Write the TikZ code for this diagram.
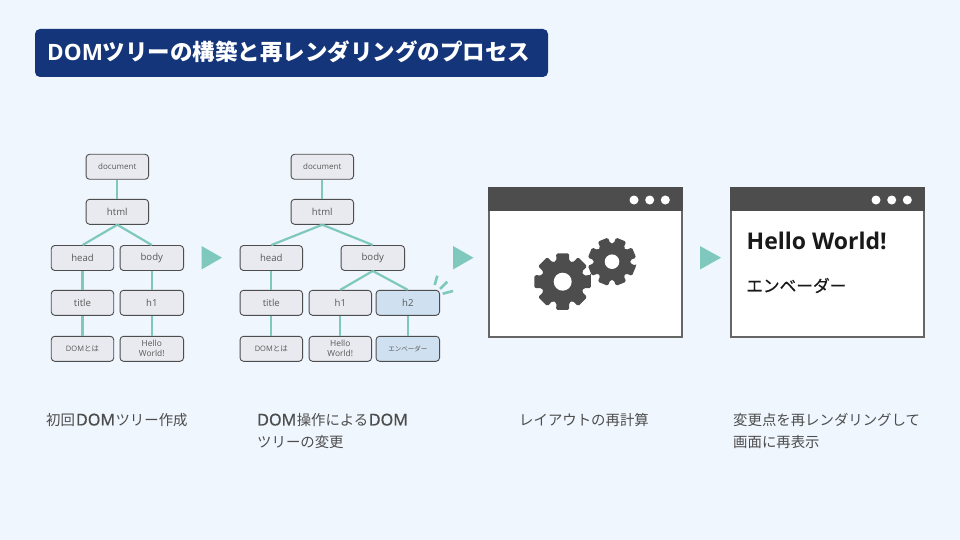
\documentclass[tikz,border=0pt]{standalone}
\usepackage{fontspec}
\setmainfont{Open Sans}
\newfontfamily\jp{Noto Sans CJK JP}
\newfontfamily\jpheavy[FakeBold=0.5]{Noto Sans CJK JP}
\newfontfamily\semi[FakeBold=0.8]{Open Sans}
\definecolor{bgc}{HTML}{EFF6FD}
\definecolor{navy}{HTML}{14357A}
\definecolor{teal}{HTML}{7FC8BD}
\definecolor{boxc}{HTML}{E8EAF0}
\definecolor{blu}{HTML}{CFE0F0}
\definecolor{ink}{HTML}{4D4D4D}
\definecolor{txt}{HTML}{595959}
\definecolor{edgec}{HTML}{666666}
\newcommand{\fa}{\fontsize{8}{10}\selectfont}
\newcommand{\fb}{\fontsize{9.6}{12}\selectfont}
\newcommand{\fc}{\fontsize{7.5}{10}\selectfont}
\newcommand{\fd}{\fontsize{8.4}{10}\selectfont}
\tikzset{
  x=1pt,y=-1pt,
  treebox/.style={draw=ink,line width=0.9pt,rounded corners=3.5pt,fill=boxc,minimum width=62.5pt,minimum height=25pt,inner sep=0pt,text=txt,align=center},
  newbox/.style={treebox,fill=blu},
  wide/.style={minimum width=63.5pt},
  link/.style={draw=teal,line width=2.2pt},
  spark/.style={draw=teal,line width=2.6pt},
  play/.style={fill=teal},
  capjp/.style={text=ink,anchor=west,inner sep=0pt,font=\fontsize{14.4}{22}\selectfont\jp,align=left},
  winframe/.style={draw=edgec,line width=2pt,fill=white},
  winbar/.style={fill=ink},
  windot/.style={fill=white},
}
\newcommand{\gearshape}[4]{% x y R rot
  \fill[ink,rounded corners=1.5pt,shift={(#1,#2)}]
    (#4-13:#3)
    \foreach \k in {0,45,...,315}{
      -- ({#4+\k-13}:#3) -- ({#4+\k+13}:#3)
      -- ({#4+\k+17}:{0.75*#3}) -- ({#4+\k+28}:{0.75*#3})
    } -- cycle;
}
\newcommand{\appwindow}[1]{%
  \draw[winframe] (#1+0.6,187.6) rectangle ++(192.4,149);
  \fill[winbar] (#1-0.4,186.6) rectangle ++(194.4,24.4);
  \fill[windot] (#1+145.3,200) circle (4.5) (#1+161,200) circle (4.5) (#1+176.6,200) circle (4.5);
}
\newcommand{\capdom}{{\semi\fontsize{16.2}{22}\selectfont DOM}}
\begin{document}
\begin{tikzpicture}
\useasboundingbox (0,0) rectangle (960,540);
\fill[bgc] (0,0) rectangle (960,540);
\node[fill=navy,rounded corners=5pt,minimum width=513pt,minimum height=48pt,inner sep=0pt] (ttl) at (291.5,53) {};
\node[anchor=base west,inner sep=0pt,text=white,font=\fontsize{22.5}{26}\selectfont\bfseries] (ttltext) at (47,61) {DOM{\jp ツリーの構築と再レンダリングのプロセス}};

% first tree
\node[treebox] (a1) at (117.3,166.8) {\fa document};
\node[treebox] (a2) at (117.3,211.8) {\fb html};
\node[treebox] (a3) at (82.5,258) {\fb head};
\node[treebox,wide] (a4) at (151.8,258) {\fb body};
\node[treebox] (a5) at (82.5,302.8) {\fb title};
\node[treebox,wide] (a6) at (151.8,302.8) {\fb h1};
\node[treebox] (a7) at (82.5,348.8) {\fc DOM{\jp とは}};
\node[treebox,wide,font=\fd] (a8) at (151.8,348.8) {Hello\\World!};
\draw[link] (a1)--(a2);
\draw[link] (a2.south)--(a3.north);
\draw[link] (a2.south)--(a4.north);
\draw[link] (a3)--(a5);
\draw[link] (a4)--(a6);
\draw[link] (a5)--(a7);
\draw[link] (a6)--(a8);

% second tree
\node[treebox] (b1) at (322.3,166.8) {\fa document};
\node[treebox] (b2) at (322.3,211.8) {\fb html};
\node[treebox] (b3) at (271.3,258) {\fb head};
\node[treebox,wide] (b4) at (372.8,258) {\fb body};
\node[treebox] (b5) at (271.3,302.8) {\fb title};
\node[treebox] (b6) at (340.3,302.8) {\fb h1};
\node[newbox,wide] (b7) at (407.8,302.8) {\fb h2};
\node[treebox] (b8) at (271.3,348.8) {\fc DOM{\jp とは}};
\node[treebox,font=\fd] (b9) at (340.3,348.8) {Hello\\World!};
\node[newbox,wide] (b10) at (407.8,348.8) {\fontsize{6.5}{8}\selectfont\jp エンベーダー};
\draw[link] (b1)--(b2);
\draw[link] (b2.south)--(b3.north);
\draw[link] (b2.south)--(b4.north);
\draw[link] (b3)--(b5);
\draw[link] (b4.south)--(b6.north);
\draw[link] (b4.south)--(b7.north);
\draw[link] (b5)--(b8);
\draw[link] (b6)--(b9);
\draw[link] (b7)--(b10);
\draw[spark] (437.3,275.7)--(434.7,285);
\draw[spark] (447.3,281.7)--(440,289);
\draw[spark] (453,291)--(442.7,293.7);

% arrows
\fill[play] (201.5,246)--(222,257.7)--(201.5,269.5)--cycle;
\fill[play] (453,246)--(473.5,257.7)--(453,269.5)--cycle;
\fill[play] (700,246)--(721,257.7)--(700,269.5)--cycle;

% window 1
\appwindow{488.7}
\gearshape{562.7}{281.7}{29}{0}
\fill[white] (562.7,281.7) circle (9);
\gearshape{612}{261.7}{24.5}{22.5}
\fill[white] (612,261.7) circle (7.3);

% window 2
\appwindow{730.7}
\node[anchor=base west,inner sep=0pt,text=black!90,font=\fontsize{23}{26}\selectfont\bfseries] (hw) at (746.5,249) {Hello World!};
\node[anchor=west,inner sep=0pt,text=black!90,font=\fontsize{16.7}{20}\selectfont\jpheavy] (ev) at (746,285.5) {エンベーダー};

% captions
\node[capjp] (c1) at (46,420) {初回\kern1pt\capdom\kern0.5pt ツリー作成};
\node[capjp] (c2) at (257,431) {\capdom\kern0.5pt 操作による\kern0.5pt\capdom\\ツリーの変更};
\node[capjp] (c3) at (519,420) {レイアウトの再計算};
\node[capjp] (c4) at (733,431) {変更点を再レンダリングして\\画面に再表示};
\end{tikzpicture}
\end{document}
